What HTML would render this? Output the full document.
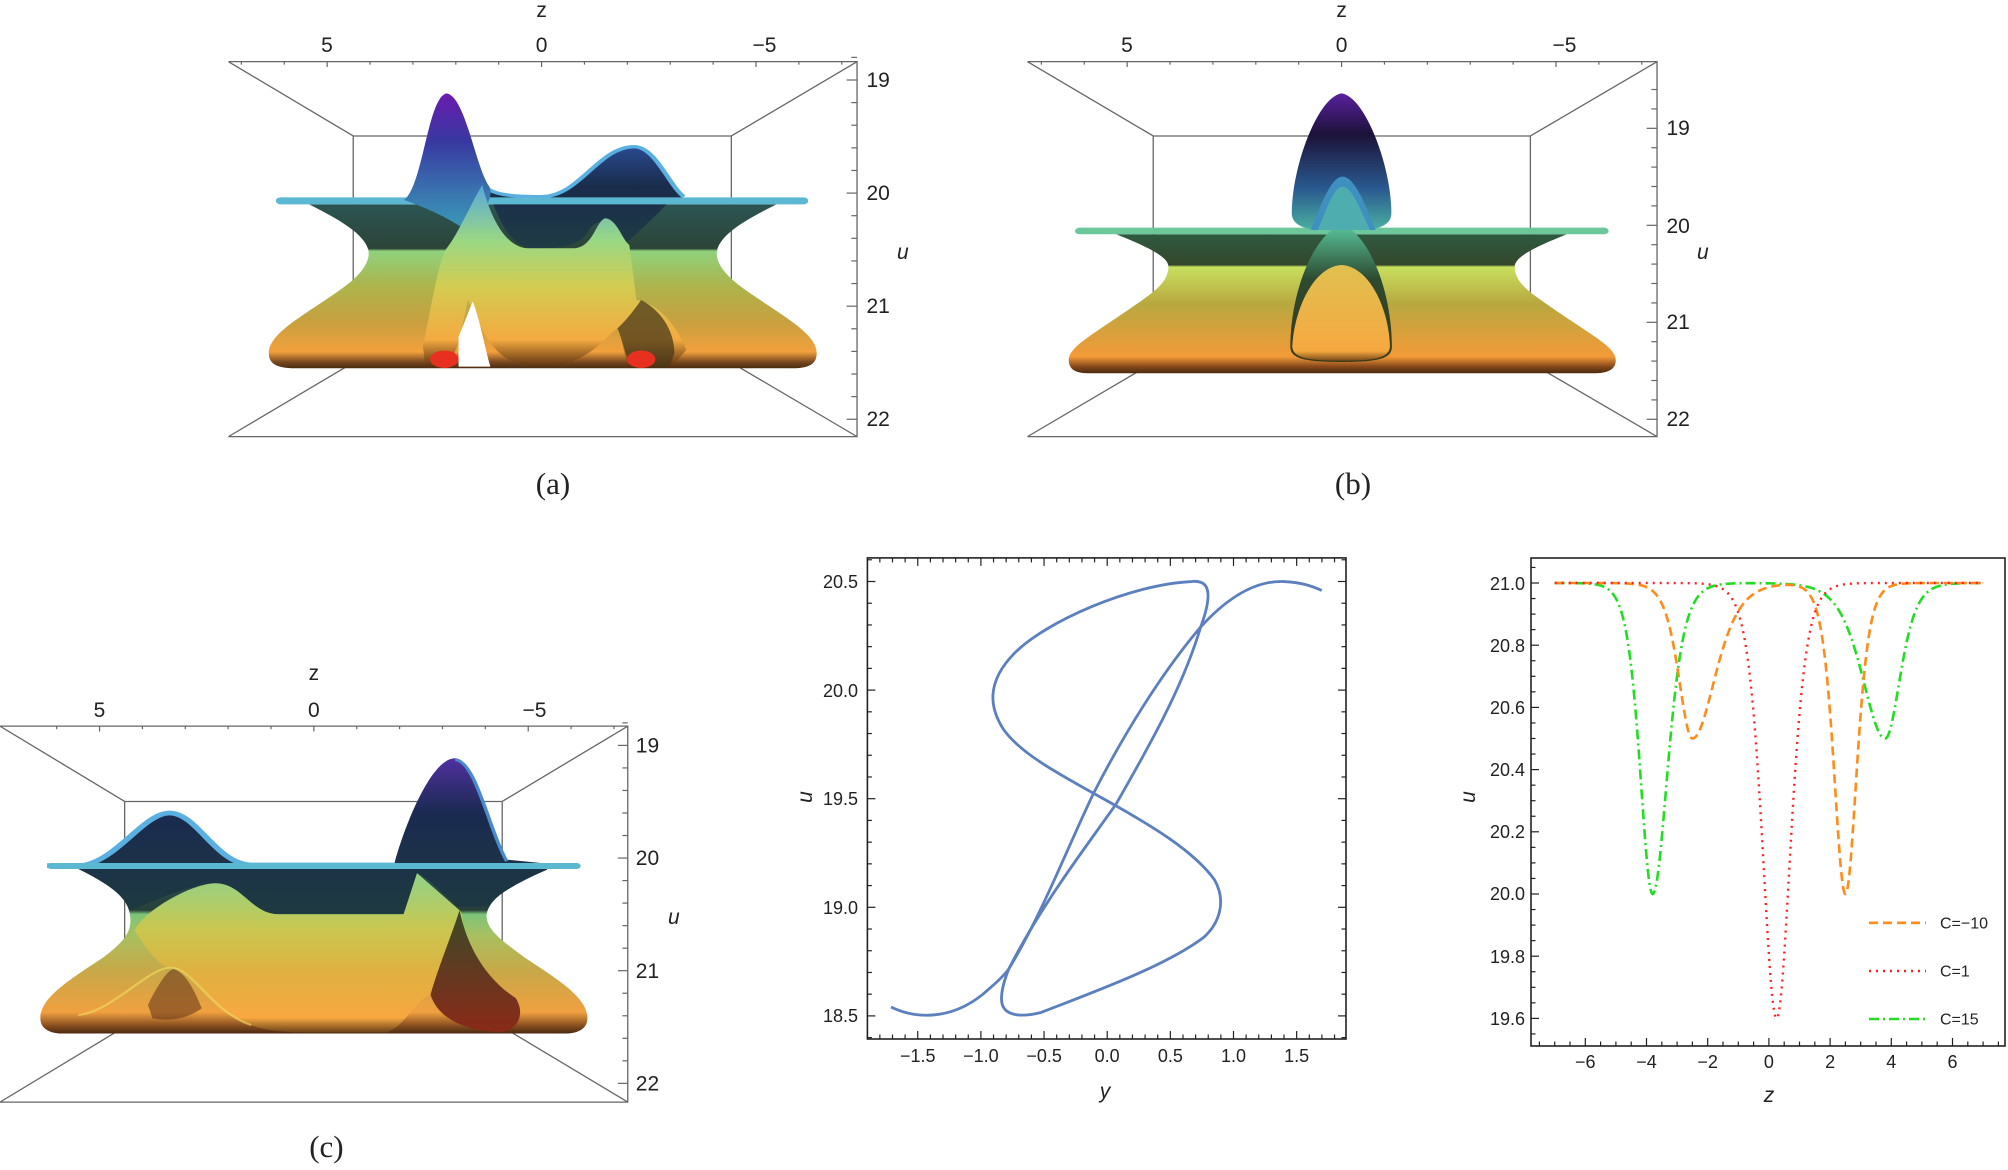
<!DOCTYPE html>
<html><head><meta charset="utf-8"><style>
html,body{margin:0;padding:0;background:#fff}
svg{display:block}
text{font-family:"Liberation Sans",sans-serif;fill:#222}
.t{font-size:21px}
.s{font-size:18px}
.lab{font-family:"Liberation Serif",serif;font-size:31px}
.it{font-style:italic}
</style></head><body>
<svg id="S" width="2008" height="1170" viewBox="0 0 2008 1170" xmlns="http://www.w3.org/2000/svg">
<defs>
<linearGradient id="bodyA" gradientUnits="userSpaceOnUse" x1="0" y1="613" x2="0" y2="1105">
<stop offset="0" stop-color="#2b5552"/><stop offset="0.27" stop-color="#2c4438"/><stop offset="0.285" stop-color="#8fd27c"/>
<stop offset="0.5" stop-color="#adb44c"/><stop offset="0.72" stop-color="#c9a040"/><stop offset="0.9" stop-color="#f2a03c"/>
<stop offset="0.96" stop-color="#7a4a20"/><stop offset="1" stop-color="#4a2a10"/></linearGradient>
<linearGradient id="centA" gradientUnits="userSpaceOnUse" x1="0" y1="560" x2="0" y2="1100">
<stop offset="0" stop-color="#5aa8d8"/><stop offset="0.3" stop-color="#9ad884"/><stop offset="0.55" stop-color="#d2cc52"/>
<stop offset="0.85" stop-color="#f4aa40"/><stop offset="1" stop-color="#5a3010"/></linearGradient>
<linearGradient id="peak" x1="0" y1="0" x2="0" y2="1">
<stop offset="0" stop-color="#6a1cb0"/><stop offset="0.35" stop-color="#3838a0"/><stop offset="0.75" stop-color="#3a78b0"/><stop offset="1" stop-color="#3a9ab8"/></linearGradient>
<linearGradient id="navy" x1="0" y1="0" x2="0" y2="1">
<stop offset="0" stop-color="#2a4a90"/><stop offset="0.4" stop-color="#1a2c4a"/><stop offset="1" stop-color="#1f3c44"/></linearGradient>
<linearGradient id="bodyB" gradientUnits="userSpaceOnUse" x1="0" y1="703" x2="0" y2="1120">
<stop offset="0" stop-color="#2e5a40"/><stop offset="0.22" stop-color="#34472c"/><stop offset="0.235" stop-color="#c8e05e"/>
<stop offset="0.5" stop-color="#b8a840"/><stop offset="0.88" stop-color="#f29a38"/><stop offset="0.95" stop-color="#8a4a1a"/><stop offset="1" stop-color="#4a2a10"/></linearGradient>
<linearGradient id="tear" x1="0" y1="0" x2="0" y2="1">
<stop offset="0" stop-color="#5a20a0"/><stop offset="0.3" stop-color="#1c1238"/><stop offset="0.7" stop-color="#2a5a90"/><stop offset="1" stop-color="#4ab0a0"/></linearGradient>
<linearGradient id="colB" x1="0" y1="0" x2="0" y2="1">
<stop offset="0" stop-color="#5ac8a0"/><stop offset="0.4" stop-color="#2e4a30"/><stop offset="1" stop-color="#3a3a1a"/></linearGradient>
<linearGradient id="yelB" x1="0" y1="0" x2="0" y2="1">
<stop offset="0" stop-color="#e0c050"/><stop offset="0.9" stop-color="#f6a840"/><stop offset="1" stop-color="#7a4a1a"/></linearGradient>
<linearGradient id="bodyC" gradientUnits="userSpaceOnUse" x1="0" y1="678" x2="0" y2="1165">
<stop offset="0" stop-color="#2a5250"/><stop offset="0.25" stop-color="#28403a"/><stop offset="0.275" stop-color="#7cc47a"/>
<stop offset="0.4" stop-color="#a8c060"/><stop offset="0.62" stop-color="#c8a848"/><stop offset="0.87" stop-color="#f0a040"/>
<stop offset="0.95" stop-color="#8a5020"/><stop offset="1" stop-color="#4a2a10"/></linearGradient>
<linearGradient id="navyC" gradientUnits="userSpaceOnUse" x1="0" y1="350" x2="0" y2="812">
<stop offset="0" stop-color="#5030a0"/><stop offset="0.35" stop-color="#1a2a50"/><stop offset="1" stop-color="#1e3a40"/></linearGradient>
<linearGradient id="yelC" gradientUnits="userSpaceOnUse" x1="0" y1="720" x2="0" y2="1162">
<stop offset="0" stop-color="#9ad080"/><stop offset="0.3" stop-color="#c8c850"/><stop offset="0.6" stop-color="#e0b040"/>
<stop offset="0.9" stop-color="#f8a840"/><stop offset="1" stop-color="#6a4018"/></linearGradient>
<linearGradient id="darkC" x1="0" y1="0" x2="0" y2="1">
<stop offset="0" stop-color="#3a4a28"/><stop offset="1" stop-color="#8a2a18"/></linearGradient>
</defs>

<!-- Panel (a) -->
<g id="ga" transform="translate(200,0) scale(0.4744,0.3333)">
<g fill="none" stroke="#666" stroke-width="1.3" vector-effect="non-scaling-stroke">
<path vector-effect="non-scaling-stroke" d="M60,185 L1385,185 L1385,1310 L60,1310"/>
<rect vector-effect="non-scaling-stroke" x="323" y="408" width="797" height="680"/>
<path vector-effect="non-scaling-stroke" d="M60,185 L323,408 M1385,185 L1120,408 M60,1310 L323,1088 M1385,1310 L1120,1088"/>
</g>
<path d="M230,613 L1215,613 C1150,660 1100,700 1090,750 C1085,790 1110,830 1150,870 C1230,950 1300,1000 1300,1060 C1300,1095 1280,1105 1250,1105 L200,1105 C160,1105 145,1090 145,1060 C145,1000 215,950 295,870 C335,830 360,790 355,750 C345,700 295,660 230,613 Z" fill="url(#bodyA)"/>
<path d="M600,560 C620,585 660,590 720,590 C800,590 840,440 915,440 C960,440 990,560 1020,590 L985,610 C960,650 920,700 890,740 C860,660 840,650 820,690 C800,740 760,745 700,745 C640,740 620,600 600,560 Z" fill="url(#navy)"/>
<path d="M600,560 C620,585 660,590 720,590 C800,590 840,440 915,440 C960,440 990,560 1020,590" fill="none" stroke="#5ab0e0" stroke-width="10" vector-effect="none"/>
<rect x="160" y="592" width="1122" height="21" rx="10" fill="#5cb8d2"/>
<path d="M430,600 C470,560 480,290 520,280 C560,290 580,500 610,560 C620,590 600,640 560,690 C520,650 470,620 430,600 Z" fill="url(#peak)"/>
<path d="M470,1040 C490,900 505,770 520,745 C545,700 575,600 595,555 C610,640 640,740 690,745 L790,745 C830,740 835,660 855,655 C880,660 890,720 905,735 L920,900 C960,910 1000,960 1025,1050 L995,1100 L905,1100 C890,1050 885,990 880,985 C860,1000 820,1100 720,1100 C640,1100 610,1050 565,900 C555,960 545,1060 520,1100 L475,1100 Z" fill="url(#centA)"/>
<path d="M880,985 C900,960 920,920 930,900 C970,930 1000,990 1000,1060 L990,1100 L910,1100 C895,1060 888,1010 880,985 Z" fill="#4a3a1a" opacity="0.75"/>
<path d="M545,1010 C560,960 570,920 575,905 C590,960 600,1040 612,1100 L545,1100 Z" fill="#fff"/>
<ellipse cx="515" cy="1078" rx="30" ry="26" fill="#e83020"/>
<ellipse cx="930" cy="1078" rx="30" ry="26" fill="#e83020"/>
</g>
<text class="t" x="541.6" y="17" text-anchor="middle">z</text>
<text class="t" x="327" y="52" text-anchor="middle">5</text>
<text class="t" x="541.6" y="52" text-anchor="middle">0</text>
<text class="t" x="764.5" y="52" text-anchor="middle">−5</text>
<text class="t" x="866.5" y="87">19</text>
<text class="t" x="866.5" y="200">20</text>
<text class="t" x="866.5" y="313">21</text>
<text class="t" x="866.5" y="426">22</text>
<text class="t it" x="897" y="259">u</text>
<text class="lab" x="553" y="494" text-anchor="middle">(a)</text>

<!-- Panel (b) -->
<g id="gb" transform="translate(1000,0) scale(0.4744,0.3333)">
<g fill="none" stroke="#666" stroke-width="1.3">
<path vector-effect="non-scaling-stroke" d="M58,185 L1385,185 L1385,1310 L58,1310"/>
<rect vector-effect="non-scaling-stroke" x="323" y="408" width="795" height="680"/>
<path vector-effect="non-scaling-stroke" d="M58,185 L323,408 M1385,185 L1118,408 M58,1310 L323,1088 M1385,1310 L1118,1088"/>
</g>
<path d="M245,703 L1195,703 C1130,740 1085,770 1085,800 C1085,850 1120,880 1160,920 C1240,1000 1298,1040 1298,1080 C1298,1110 1280,1120 1250,1120 L190,1120 C160,1120 145,1110 145,1080 C145,1040 200,1000 280,920 C320,880 355,850 355,800 C355,770 310,740 245,703 Z" fill="url(#bodyB)"/>
<rect x="158" y="683" width="1125" height="20" rx="10" fill="#6cc89a"/>
<path d="M612,1040 C612,900 650,720 720,670 C790,720 826,900 826,1040 C826,1075 800,1086 720,1086 C640,1086 612,1075 612,1040 Z" fill="url(#colB)"/>
<path d="M616,1040 C620,930 660,800 720,795 C780,800 820,930 822,1040 C820,1075 790,1082 720,1082 C650,1082 618,1075 616,1040 Z" fill="url(#yelB)"/>
<path d="M720,280 C770,290 825,500 825,640 C825,680 790,690 760,690 L680,690 C650,690 615,680 615,640 C615,500 670,290 720,280 Z" fill="url(#tear)"/>
<path d="M655,690 C680,600 700,530 722,530 C748,530 772,620 792,690 Z" fill="#3f8fc0"/>
<path d="M670,690 C690,620 705,560 722,560 C742,560 760,630 780,690 Z" fill="#55bba8" opacity="0.7"/>
</g>
<text class="t" x="1341.6" y="17" text-anchor="middle">z</text>
<text class="t" x="1127" y="52" text-anchor="middle">5</text>
<text class="t" x="1341.6" y="52" text-anchor="middle">0</text>
<text class="t" x="1564.5" y="52" text-anchor="middle">−5</text>
<text class="t" x="1666.5" y="135">19</text>
<text class="t" x="1666.5" y="233">20</text>
<text class="t" x="1666.5" y="329">21</text>
<text class="t" x="1666.5" y="426">22</text>
<text class="t it" x="1697" y="259">u</text>
<text class="lab" x="1353" y="494" text-anchor="middle">(b)</text>

<!-- Panel (c) -->
<g id="gc" transform="translate(0,640) scale(0.4484,0.3378)">
<g fill="none" stroke="#666" stroke-width="1.3">
<path vector-effect="non-scaling-stroke" d="M0,255 L1400,255 L1400,1368 L0,1368"/>
<rect vector-effect="non-scaling-stroke" x="278" y="478" width="842" height="667"/>
<path vector-effect="non-scaling-stroke" d="M0,255 L278,478 M1400,255 L1120,478 M0,1368 L278,1145 M1400,1368 L1120,1145"/>
</g>
<path d="M175,678 L1220,678 C1150,720 1090,760 1085,815 C1085,860 1120,890 1170,940 C1250,1010 1310,1060 1310,1120 C1310,1150 1290,1165 1260,1165 L140,1165 C110,1165 90,1150 90,1120 C90,1060 150,1010 230,940 C280,890 295,860 290,815 C285,760 240,720 175,678 Z" fill="url(#bodyC)"/>
<path d="M180,662 C260,650 320,508 378,508 C440,508 480,655 560,660 L880,660 C900,560 960,350 1015,350 C1060,350 1090,560 1130,650 L1220,662 L1220,680 C1150,720 1100,760 1090,790 L1020,790 C980,740 950,700 930,690 L900,812 L620,812 C560,810 540,720 480,720 C430,720 330,780 290,800 C280,760 240,720 175,678 Z" fill="url(#navyC)"/>
<path d="M105,668 L180,668 C260,656 320,512 378,512 C440,512 480,662 560,666 L880,666" fill="none" stroke="#5ab0e0" stroke-width="14"/>
<path d="M1130,655 C1090,560 1060,355 1015,355" fill="none" stroke="#4a8ad0" stroke-width="8"/>
<rect x="105" y="660" width="1190" height="18" rx="9" fill="#5ab8d0"/>
<path d="M380,970 C440,975 470,1100 560,1140 C600,1160 650,1162 700,1162 L860,1162 C900,1150 930,1060 960,1050 L1000,1060 C1030,900 1040,820 1025,800 L930,690 L900,812 L620,812 C560,810 540,720 480,720 C430,720 320,800 300,860 C330,920 350,960 380,970 Z" fill="url(#yelC)"/>
<path d="M960,1050 C980,960 1000,900 1025,800 C1040,900 1080,1000 1150,1060 C1170,1100 1160,1150 1120,1160 C1050,1160 980,1130 960,1050 Z" fill="url(#darkC)"/>
<path d="M330,1080 C360,1000 380,970 390,975 C420,990 440,1060 450,1090 C420,1120 380,1130 340,1120 Z" fill="#6a3a1a" opacity="0.6"/>
<path d="M175,1110 C250,1100 330,970 380,970 C430,970 470,1100 560,1140" fill="none" stroke="#f0e060" stroke-width="6" opacity="0.6"/>
</g>
<text class="t" x="313.9" y="680" text-anchor="middle">z</text>
<text class="t" x="99.5" y="717" text-anchor="middle">5</text>
<text class="t" x="313.9" y="717" text-anchor="middle">0</text>
<text class="t" x="534.5" y="717" text-anchor="middle">−5</text>
<text class="t" x="635.8" y="752.5">19</text>
<text class="t" x="635.8" y="865">20</text>
<text class="t" x="635.8" y="978">21</text>
<text class="t" x="635.8" y="1090.5">22</text>
<text class="t it" x="668" y="924">u</text>
<text class="lab" x="326.4" y="1157" text-anchor="middle">(c)</text>

<!-- Panel (d) -->
<rect x="867.4" y="557.9" width="478.6" height="481.1" fill="none" stroke="#222" stroke-width="1.6"/>
<g id="dt" stroke="#222" stroke-width="1.2"></g>
<g transform="translate(820,550) scale(0.346,0.3584)" fill="none" stroke="#5b7fbf" stroke-width="2.8">
<path vector-effect="non-scaling-stroke" d="M205,1275 C280,1310 380,1310 470,1240 C500,1215 525,1195 545,1170 C640,1020 720,820 790,680 C880,510 990,340 1100,215 C1180,130 1260,85 1340,88 C1390,90 1420,100 1450,113"/>
<path vector-effect="non-scaling-stroke" d="M1075,88 C900,95 650,200 560,290 C480,370 490,440 530,500 C580,570 700,630 830,700 C960,770 1080,840 1140,920 C1175,980 1155,1040 1110,1080 C1000,1160 800,1230 640,1290 C580,1305 530,1300 525,1260 C522,1230 535,1195 545,1170 C640,990 760,840 855,710 C950,550 1050,380 1100,215 C1125,150 1132,100 1100,90 C1090,87 1082,87 1075,88"/>
</g>
<text class="s" x="917.8" y="1062" text-anchor="middle">−1.5</text>
<text class="s" x="980.9" y="1062" text-anchor="middle">−1.0</text>
<text class="s" x="1044.1" y="1062" text-anchor="middle">−0.5</text>
<text class="s" x="1107.2" y="1062" text-anchor="middle">0.0</text>
<text class="s" x="1170.4" y="1062" text-anchor="middle">0.5</text>
<text class="s" x="1233.5" y="1062" text-anchor="middle">1.0</text>
<text class="s" x="1296.7" y="1062" text-anchor="middle">1.5</text>
<text class="s" x="858" y="588" text-anchor="end">20.5</text>
<text class="s" x="858" y="697" text-anchor="end">20.0</text>
<text class="s" x="858" y="805" text-anchor="end">19.5</text>
<text class="s" x="858" y="914" text-anchor="end">19.0</text>
<text class="s" x="858" y="1022" text-anchor="end">18.5</text>
<text class="it" font-size="21" x="1105" y="1098" text-anchor="middle">y</text>
<text class="it" font-size="21" transform="translate(812,797) rotate(-90)" text-anchor="middle">u</text>

<!-- Panel (e) -->
<rect x="1531" y="558" width="474" height="488" fill="none" stroke="#222" stroke-width="1.6"/>
<g id="et" stroke="#222" stroke-width="1.2"></g>
<g id="ec" fill="none"></g>
<text class="s" x="1585.3" y="1068" text-anchor="middle">−6</text>
<text class="s" x="1646.5" y="1068" text-anchor="middle">−4</text>
<text class="s" x="1707.7" y="1068" text-anchor="middle">−2</text>
<text class="s" x="1768.9" y="1068" text-anchor="middle">0</text>
<text class="s" x="1830.1" y="1068" text-anchor="middle">2</text>
<text class="s" x="1891.3" y="1068" text-anchor="middle">4</text>
<text class="s" x="1952.5" y="1068" text-anchor="middle">6</text>
<text class="s" x="1525" y="590" text-anchor="end">21.0</text>
<text class="s" x="1525" y="652" text-anchor="end">20.8</text>
<text class="s" x="1525" y="714" text-anchor="end">20.6</text>
<text class="s" x="1525" y="776" text-anchor="end">20.4</text>
<text class="s" x="1525" y="838" text-anchor="end">20.2</text>
<text class="s" x="1525" y="900" text-anchor="end">20.0</text>
<text class="s" x="1525" y="963" text-anchor="end">19.8</text>
<text class="s" x="1525" y="1025" text-anchor="end">19.6</text>
<text class="it" font-size="21" x="1769" y="1102" text-anchor="middle">z</text>
<text class="it" font-size="21" transform="translate(1475,797) rotate(-90)" text-anchor="middle">u</text>
<line x1="1869" y1="922.8" x2="1926" y2="922.8" stroke="#ff8c1a" stroke-width="2.6" stroke-dasharray="9,5"/>
<line x1="1869" y1="971" x2="1926" y2="971" stroke="#ff2020" stroke-width="2.4" stroke-dasharray="2,5"/>
<line x1="1869" y1="1019" x2="1926" y2="1019" stroke="#22dd22" stroke-width="2.6" stroke-dasharray="10,4,2,4"/>
<text font-size="16" x="1940" y="928.5">C=−10</text>
<text font-size="16" x="1940" y="976.5">C=1</text>
<text font-size="16" x="1940" y="1024.5">C=15</text>
</svg>
<script>
(function(){
var NS="http://www.w3.org/2000/svg";
function ln(g,x1,y1,x2,y2,attrs){var l=document.createElementNS(NS,"line");l.setAttribute("x1",x1);l.setAttribute("y1",y1);l.setAttribute("x2",x2);l.setAttribute("y2",y2);if(attrs)for(var k in attrs)l.setAttribute(k,attrs[k]);g.appendChild(l);}
// 3D box ticks
function box(id,topY,rightX,x0,pxPerZ,zmin,zmax,u19,pxPerU,umin,umax){
 var g=document.getElementById(id);var a={"stroke":"#666","stroke-width":"1.2","vector-effect":"non-scaling-stroke"};
 for(var k=-8;k<=14;k++){var x=x0+k*pxPerZ;if(x<60||x>rightX)continue;ln(g,x,topY,x,topY+(k%5==0?16:9),a);}
 for(var u=umin;u<=umax+1e-6;u+=0.2){var y=u19+(u-19)*pxPerU;var maj=Math.abs(u-Math.round(u))<1e-6;ln(g,rightX,y,rightX-(maj?22:12),y,a);}
}
box("ga",185,1385,268,90.4,0,0,240,339.3,18.8,22.0);
box("gb",185,1385,268,90.4,0,0,385,291,18.6,22.0);
box("gc",255,1400,222,95.6,0,0,312,333.5,18.8,22.0);
// panel d ticks
var dt=document.getElementById("dt");
var L=867.4,R=1346,T=557.9,B=1039;
function X(y){return 1107.2+126.3*y;} function Yd(u){return 581.5+(20.5-u)*217.2;}
for(var i=-19;i<=19;i++){var y=i/10,x=X(y);if(x<L||x>R)continue;var maj=(i%5==0);var len=maj?8:4.5;ln(dt,x,B,x,B-len);ln(dt,x,T,x,T+len);}
for(var i=183;i<=206;i++){var u=i/10,yy=Yd(u);if(yy<T||yy>B)continue;var maj=(i%5==0);var len=maj?8:4.5;ln(dt,L,yy,L+len,yy);ln(dt,R,yy,R-len,yy);}
// panel e ticks
var et=document.getElementById("et");
var eL=1531,eR=2005,eT=558,eB=1046;
function Xe(z){return 1768.9+30.6*z;} function Ye(u){return 583+(21-u)*311;}
for(var i=-16;i<=16;i++){var z=i/2,x=Xe(z);if(x<eL||x>eR)continue;var maj=(i%4==0);ln(et,x,eB,x,eB-(maj?8:4.5));}
for(var i=390;i<=422;i++){var u=i/20,yy=Ye(u);if(yy<eT||yy>eB)continue;var maj=(i%4==0);ln(et,eL,yy,eL+(maj?8:4.5),yy);}
function s2(x){var c=Math.cosh(x);return 1/(c*c);}
function orange(z){var w1=z<-2.5?0.6:1.0;return 21-0.5*s2((z+2.5)/w1)-1.0*s2((z-2.5)/0.5);}
function red(z){return 21-1.4*s2((z-0.25)/0.62);}
function green(z){var w1=z<-3.8?0.55:0.66;var w2=z<3.8?1.0:0.66;return 21-1.0*s2((z+3.8)/w1)-0.5*s2((z-3.8)/w2);}
var ec=document.getElementById("ec");
function curve(f,col,dash,w){var d="";for(var i=0;i<=1400;i++){var z=-7+i*0.01;d+=(i?"L":"M")+Xe(z).toFixed(2)+","+Ye(f(z)).toFixed(2);}
 var p=document.createElementNS(NS,"path");p.setAttribute("d",d);p.setAttribute("stroke",col);p.setAttribute("stroke-width",w);p.setAttribute("stroke-dasharray",dash);p.setAttribute("fill","none");ec.appendChild(p);}
curve(green,"#22dd22","10,4,2,4",2.6);
curve(orange,"#ff8c1a","9,5",2.6);
curve(red,"#ff2020","2,5",2.4);
})();
</script>
</body></html>
